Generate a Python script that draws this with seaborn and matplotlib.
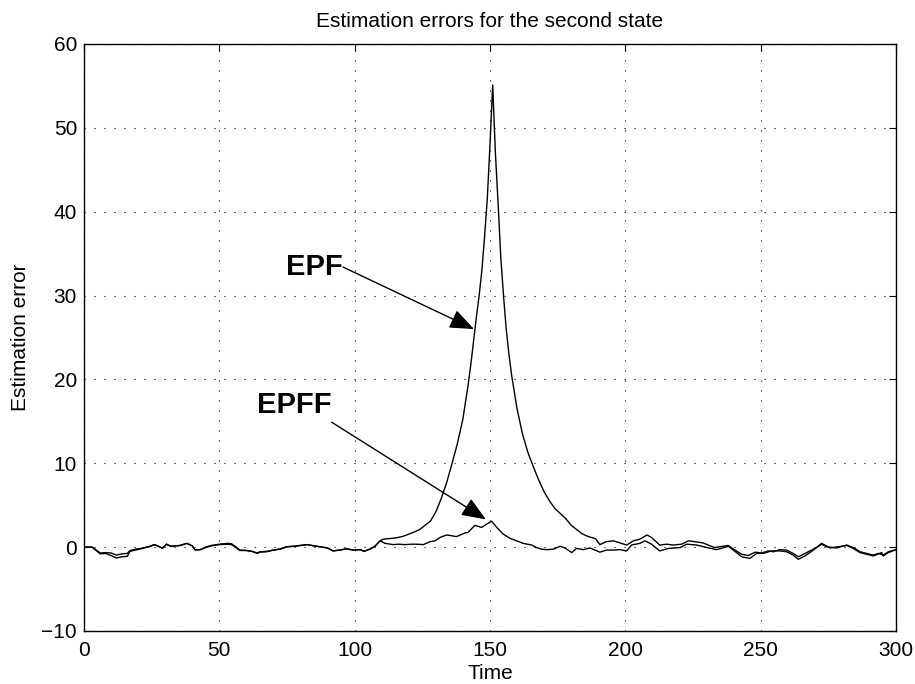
import matplotlib
matplotlib.use("Agg")
import matplotlib.pyplot as plt
import seaborn as sns
import pandas as pd

# ---------------- data ----------------
time_epf = [0, 3, 6, 8, 10, 12, 14, 16, 17, 19, 21, 24, 26, 27.5, 29, 30.5, 32, 33.6, 35.5, 38,
            40, 41, 43, 45, 47, 50, 53, 54.5, 56, 57.6, 60, 62, 64, 65, 67.5, 70, 72.5, 75, 77.5, 80,
            82.5, 85, 87, 90, 92, 94.5, 97, 99.5, 102, 103.5, 105.5, 107.5, 109.4, 110.6, 112, 114,
            116, 118, 120, 122, 124, 126, 128, 130, 132, 134, 136, 138, 140, 142, 143, 144, 145,
            146, 147, 148, 149, 150, 151, 152, 153, 154, 155, 156, 157, 158, 159, 160, 162, 164,
            166, 168, 170, 172, 174, 176, 178, 180, 182, 184, 186, 187, 189, 190.6, 193, 195.6,
            198, 200.5, 203, 205.4, 208, 209.7, 212.7, 215.3, 217.7, 220.8, 223.3, 225.7, 228.8,
            230.6, 233, 235, 238, 240.5, 243, 245.4, 248, 250.4, 252.8, 254.7, 257, 259.6, 262,
            264, 266.4, 268.8, 270.7, 272.5, 274.4, 278, 281.8, 284.2, 286.7, 289.2, 291.6, 293.5,
            295.3, 297.2, 300]
epf = [0.0, 0.0, -0.8, -0.75, -1.0, -1.3, -1.15, -1.1, -0.5, -0.35, -0.2, 0.05, 0.3, 0.1, -0.15,
       0.35, 0.1, 0.15, 0.2, 0.45, 0.15, -0.35, -0.3, -0.05, 0.15, 0.3, 0.35, 0.3, 0.0, -0.4,
       -0.4, -0.5, -0.75, -0.6, -0.55, -0.35, -0.25, 0.05, 0.1, 0.2, 0.3, 0.15, 0.05, -0.1, -0.45,
       -0.35, -0.2, -0.35, -0.3, -0.5, -0.25, 0.1, 0.75, 0.95, 1.0, 1.05, 1.15, 1.3, 1.55, 1.8,
       2.1, 2.6, 3.1, 4.2, 5.8, 7.7, 10.0, 12.4, 15.3, 19.5, 22.0, 24.8, 27.5, 30.0, 33.0, 37.0,
       41.5, 48.0, 55.1, 47.0, 41.0, 34.5, 30.0, 26.0, 23.0, 20.5, 18.5, 16.5, 13.5, 11.3, 9.6,
       8.0, 6.6, 5.5, 4.6, 4.0, 3.4, 2.6, 2.1, 1.6, 1.3, 1.2, 1.0, 0.3, 0.65, 0.75, 0.5, 0.25,
       0.75, 0.95, 1.45, 1.15, 0.25, 0.35, 0.25, 0.35, 0.75, 0.65, 0.5, 0.25, -0.05, 0.05, 0.2,
       -0.35, -0.85, -1.0, -0.6, -0.7, -0.45, -0.55, -0.3, -0.35, -0.75, -1.15, -0.75, -0.35,
       -0.05, 0.35, 0.05, -0.1, 0.25, -0.05, -0.55, -0.75, -0.95, -0.75, -0.95, -0.55, -0.3]

time_epff = [0, 3, 6, 8, 10, 12, 14, 16, 17, 19, 21, 24, 26, 27.5, 29, 30.5, 32, 33.6, 35.5, 38,
             40, 41, 43, 45, 47, 50, 53, 54.5, 56, 57.6, 60, 62, 64, 65, 67.5, 70, 72.5, 75, 77.5,
             80, 82.5, 85, 87, 90, 92, 94.5, 97, 99.5, 102, 103.5, 105.5, 107.5, 109.4, 111.2,
             114.3, 116.2, 118.6, 121, 122.9, 125.4, 127.8, 129.7, 131.5, 134, 136, 137.6, 140.8,
             141.9, 144.4, 146.9, 148.8, 150.6, 152.5, 154.9, 157.4, 159.8, 162.3, 165.4, 167.2,
             169.1, 171, 173.4, 175.9, 177.7, 180.2, 182, 184.5, 187, 188.8, 190.6, 193.1, 195.6,
             198, 200.5, 202.3, 205.4, 207.3, 209.7, 212.7, 216.1, 220.3, 222.7, 226.4, 230.2,
             233.7, 238.1, 240.5, 243, 246, 248.5, 250.9, 254, 257.1, 259.6, 262, 263.9, 266.4,
             269.5, 272.5, 275.6, 281.8, 284.2, 286.7, 291.6, 294.7, 295.3, 297.2, 300]
epff = [0.0, 0.0, -0.7, -0.65, -0.7, -0.95, -0.8, -0.75, -0.4, -0.25, -0.15, 0.05, 0.3, 0.1, -0.1,
        0.35, 0.1, 0.15, 0.2, 0.45, 0.15, -0.3, -0.3, 0.0, 0.2, 0.35, 0.45, 0.4, 0.05, -0.35,
        -0.4, -0.5, -0.7, -0.55, -0.5, -0.35, -0.2, 0.05, 0.1, 0.2, 0.3, 0.15, 0.05, -0.1, -0.45,
        -0.35, -0.2, -0.35, -0.3, -0.5, -0.25, 0.1, 0.75, 0.45, 0.3, 0.35, 0.3, 0.35, 0.35, 0.3,
        0.65, 0.75, 1.15, 1.45, 1.35, 1.25, 1.7, 1.75, 2.6, 2.35, 2.75, 3.1, 2.35, 1.55, 1.05,
        0.75, 0.45, 0.25, -0.05, -0.25, -0.3, -0.25, 0.1, -0.1, -0.65, -0.15, -0.3, -0.1, -0.35,
        -0.6, -0.35, -0.35, -0.3, -0.45, 0.25, 0.45, 0.75, 0.35, -0.45, -0.15, -0.05, 0.35, 0.25,
        -0.05, -0.3, 0.1, -0.5, -1.15, -1.35, -0.75, -0.75, -0.45, -0.45, -0.55, -0.95, -1.45,
        -1.05, -0.35, 0.45, -0.1, 0.2, -0.15, -0.65, -1.05, -0.65, -1.05, -0.65, -0.3]

x_ticks = [0, 50, 100, 150, 200, 250, 300]
y_ticks = [-10, 0, 10, 20, 30, 40, 50, 60]

title = "Estimation errors for the second state"
x_label = "Time"
y_label = "Estimation error"

# annotation anchors (text end, arrow tip) in data units
epf_note = dict(text="EPF", start=(95.7, 33.4), tip=(144.1, 26.0), text_dy=0.0)
epff_note = dict(text="EPFF", start=(91.5, 14.9), tip=(148.5, 3.3), text_dy=2.0)

# ---------------- styling ----------------
sns.set_style("white")
plt.rcParams["font.family"] = ["Liberation Sans", "DejaVu Sans"]
plt.rcParams["axes.unicode_minus"] = True
plt.rcParams["text.color"] = "black"
plt.rcParams["axes.labelcolor"] = "black"
plt.rcParams["xtick.color"] = "black"
plt.rcParams["ytick.color"] = "black"

df_epf = pd.DataFrame({"Time": time_epf, "Error": epf})
df_epff = pd.DataFrame({"Time": time_epff, "Error": epff})

fig = plt.figure(figsize=(9.15, 6.84), dpi=100)
ax = fig.add_axes([0.0918, 0.0775, 0.8874, 0.8582])

sns.lineplot(data=df_epf, x="Time", y="Error", ax=ax, color="black", lw=1.0,
             estimator=None, sort=False)
sns.lineplot(data=df_epff, x="Time", y="Error", ax=ax, color="black", lw=1.0,
             estimator=None, sort=False)

ax.set_xlim(0, 300)
ax.set_ylim(-10, 60)
ax.set_xticks(x_ticks)
ax.set_yticks(y_ticks)
ax.set_xticklabels([str(v) for v in x_ticks])
ax.set_yticklabels([str(v).replace("-", "\u2212") for v in y_ticks])

ax.grid(True, color="black", linestyle=(0, (1, 8)), linewidth=0.8)
ax.set_axisbelow(True)

for s in ax.spines.values():
    s.set_visible(True)
    s.set_color("black")
    s.set_linewidth(1.0)

ax.tick_params(axis="both", which="major", direction="in", length=5, width=0.8,
               top=True, right=True, labelsize=15, colors="black")
ax.tick_params(axis="x", pad=7)
ax.tick_params(axis="y", pad=5)

ax.set_title(title, fontsize=15, pad=12, color="black")
ax.set_xlabel(x_label, fontsize=15, labelpad=3, color="black")
ax.set_ylabel(y_label, fontsize=15, labelpad=8, color="black")

for note in (epf_note, epff_note):
    ax.text(note["start"][0], note["start"][1] + note["text_dy"],
            note["text"], fontsize=21, fontweight="bold", ha="right", va="center",
            color="black")
    ax.annotate("", xy=note["tip"], xytext=note["start"],
                arrowprops=dict(arrowstyle="-|>,head_length=0.75,head_width=0.3",
                                color="black", lw=1.0, shrinkA=0, shrinkB=0,
                                mutation_scale=20))

fig.savefig("out.png", dpi=100)
